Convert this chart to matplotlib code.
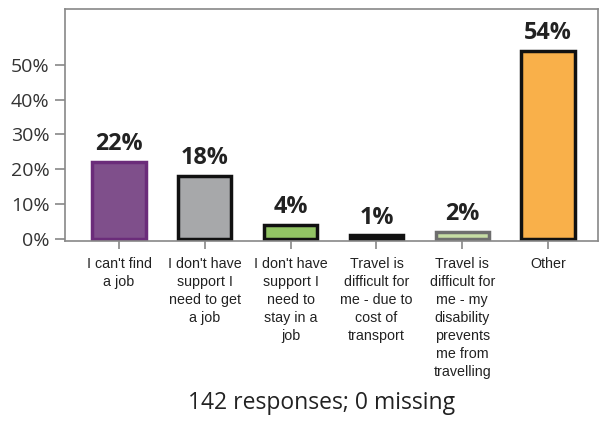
import numpy as np
import matplotlib.pyplot as plt

categories = [
    "I can't find\na job",
    "I don't have\nsupport I\nneed to get\na job",
    "I don't have\nsupport I\nneed to\nstay in a\njob",
    "Travel is\ndifficult for\nme - due to\ncost of\ntransport",
    "Travel is\ndifficult for\nme - my\ndisability\nprevents\nme from\ntravelling",
    "Other",
]
values = [22, 18, 4, 1, 2, 54]
fill_colors = ["#7F4F8B", "#A7A8AA", "#92C464", "#111111", "#C6DDA4", "#F9B04A"]
edge_colors = ["#6B2C7A", "#111111", "#111111", "#111111", "#6E6E6E", "#111111"]
yticks = [0, 10, 20, 30, 40, 50]

fig = plt.figure(figsize=(5.99, 4.21), dpi=100)
ax = fig.add_axes([0.1085, 0.4276, 0.8895, 0.551])

x = np.arange(len(values))
ax.bar(x, values, width=0.62, color=fill_colors, edgecolor=edge_colors, linewidth=2.5)

for xi, v in zip(x, values):
    ax.text(xi, v + 3.4, f"{v}%", ha='center', va='baseline', fontsize=16.8,
            fontweight='bold', family='Open Sans', color='#222222')

ax.set_xlim(-0.63, 5.58)
ax.set_ylim(-0.6, 66)
ax.set_yticks(yticks)
ax.set_yticklabels([f"{t}%" for t in yticks], family='Open Sans', fontsize=14, color='#333333')
ax.set_xticks(x)
ax.set_xticklabels(categories, family='Liberation Sans', fontsize=10.3, color='#222222',
                   linespacing=1.36, va='top')

for s in ax.spines.values():
    s.set_color('#888888')
    s.set_linewidth(1.2)
ax.tick_params(axis='both', colors='#888888', width=1.2)
ax.tick_params(axis='y', labelcolor='#333333', length=7.5, pad=3.5)
ax.tick_params(axis='x', labelcolor='#222222', length=6, pad=5.5)

fig.text(0.537, 0.043, "142 responses; 0 missing", ha='center', va='center',
         fontsize=16.5, family='Open Sans', color='#222222')

fig.savefig("out.png", dpi=100)
